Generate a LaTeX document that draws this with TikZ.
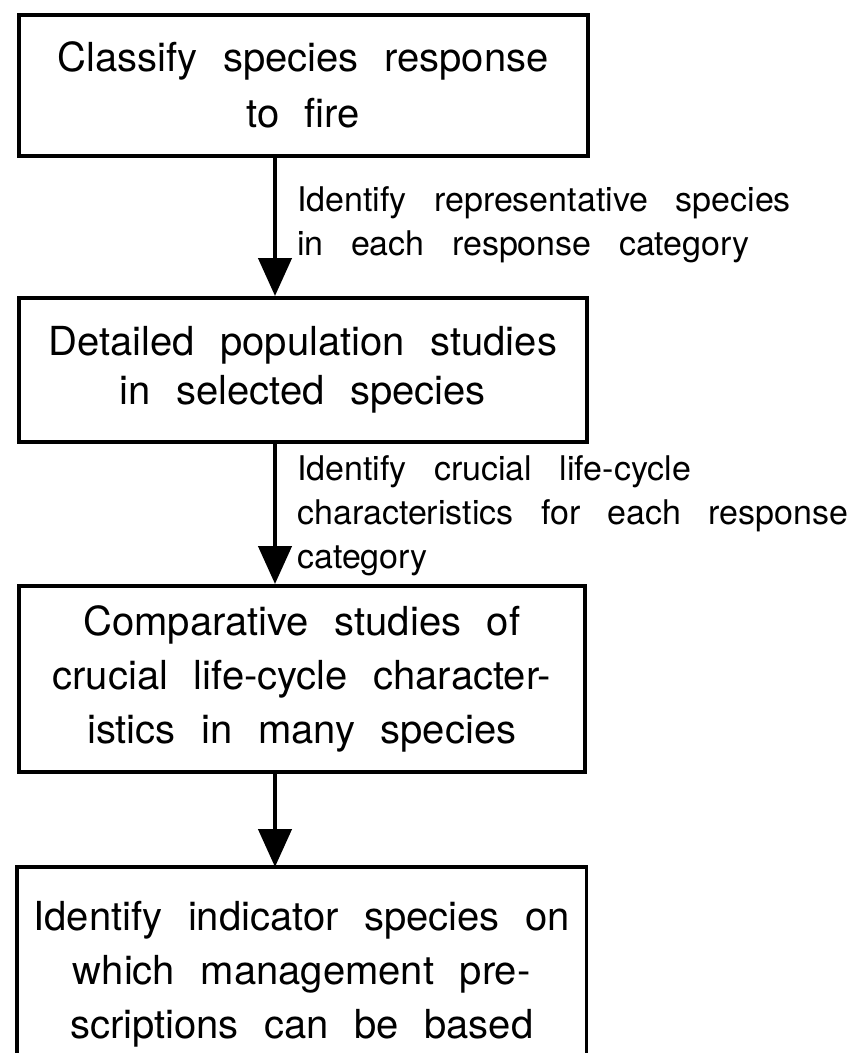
\documentclass[tikz,border=0pt]{standalone}
\usepackage{fontspec}
\setmainfont{TeX Gyre Heros}[WordSpace=2.3]
\newfontfamily\labfont{TeX Gyre Heros}[WordSpace=2.9]
\usetikzlibrary{arrows.meta}
\begin{document}
\begin{tikzpicture}[x=1pt,y=-1pt,
  box/.style={draw=black, line width=3.5pt, align=center, inner sep=0pt,
    anchor=north west, font=\fontsize{40}{54}\selectfont},
  lab/.style={align=left, inner sep=0pt, anchor=north west,
    font=\labfont\fontsize{34}{44}\selectfont},
  flow/.style={line width=4.5pt, -{Triangle[width=33pt,length=38pt]}}
]
\useasboundingbox (0,0) rectangle (860,1053);
\coordinate (ax) at (275,0);
\coordinate (bot) at (0,1053);

\node[box, minimum width=569pt, minimum height=141pt,
  font=\fontsize{40}{56}\selectfont] (b1) at (17,13)
  {Classify species response\\to fire};
\node[box, minimum width=568pt, minimum height=144pt,
  font=\fontsize{40}{49}\selectfont] (b2) at (17,296)
  {Detailed population studies\\in selected species};
\node[box, minimum width=566pt, minimum height=186pt] (b3) at (17,584)
  {Comparative studies of\\crucial life-cycle character-\\istics in many species};
\node[box, draw=none, minimum width=566pt, minimum height=210pt] (b4) at (17,867)
  {Identify indicator species on\\which management pre-\\scriptions can be based};
\draw[line width=3.5pt] (b4.north west |- bot) -- (b4.north west) -- (b4.north east) -- (b4.north east |- bot);

\draw[flow] (b1.south -| ax) -- (b2.north -| ax);
\draw[flow] (b2.south -| ax) -- (b3.north -| ax);
\draw[flow] (b3.south -| ax) -- (b4.north -| ax);

\node[lab] (l1) at (297,186) {Identify representative species\\in each response category};
\node[lab] (l2) at (297,455) {Identify crucial life-cycle\\characteristics for each response\\category};
\end{tikzpicture}
\end{document}
